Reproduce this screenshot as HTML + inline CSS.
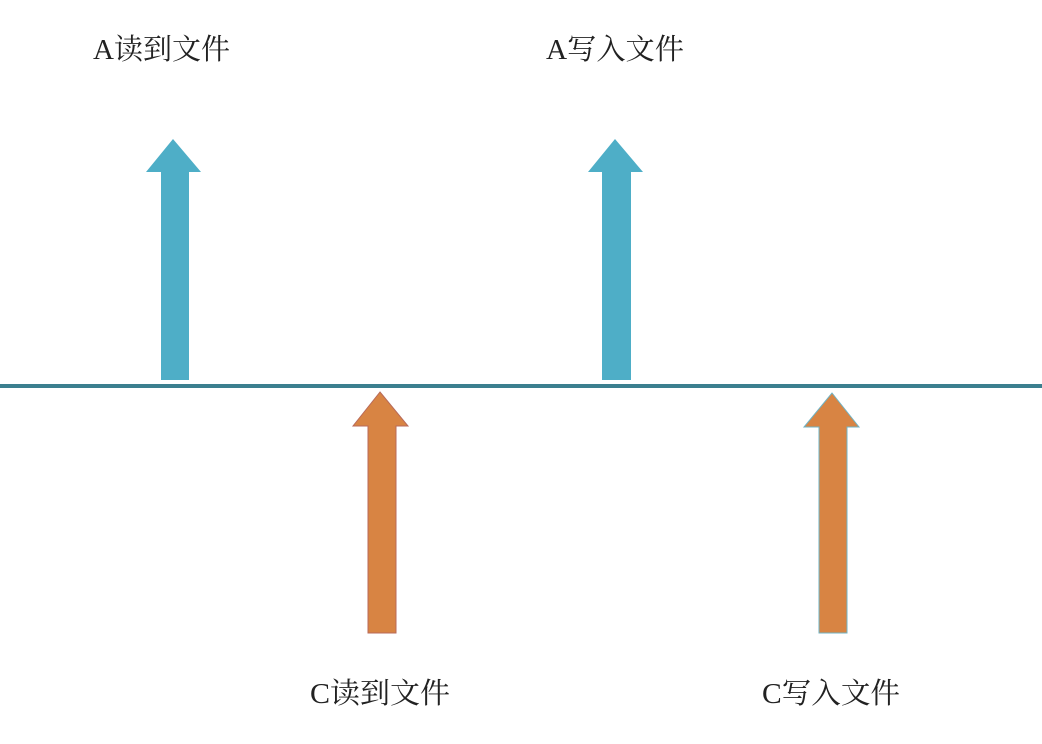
<!DOCTYPE html>
<html><head><meta charset="utf-8"><style>
html,body{margin:0;padding:0;background:#fff;width:1042px;height:744px;overflow:hidden}
svg{display:block}
text{font-family:"Liberation Serif","Noto Serif CJK SC",serif;font-size:29px;fill:#222}
</style></head><body>
<svg width="1042" height="744" viewBox="0 0 1042 744">
<rect x="0" y="384" width="1042" height="4" fill="#3b7f8f"/>
<polygon points="173,139 201,172 189,172 189,380 161,380 161,172 146,172" fill="#4eaec7"/>
<polygon points="615,139 643,172 631,172 631,380 602,380 602,172 588,172" fill="#4eaec7"/>
<polygon points="380,392 408,426 396,426 396,633 368,633 368,426 353,426" fill="#d88443" stroke="#b86a5a" stroke-width="1"/>
<polygon points="832,393 859,427 847,427 847,633 819,633 819,427 804,427" fill="#d88443" stroke="#6fb3c4" stroke-width="1"/>
<text x="93" y="59" textLength="137" lengthAdjust="spacingAndGlyphs">A读到文件</text>
<text x="546" y="59" textLength="138" lengthAdjust="spacingAndGlyphs">A写入文件</text>
<text x="310" y="703" textLength="140" lengthAdjust="spacingAndGlyphs">C读到文件</text>
<text x="762" y="703" textLength="138" lengthAdjust="spacingAndGlyphs">C写入文件</text>
</svg>
</body></html>
